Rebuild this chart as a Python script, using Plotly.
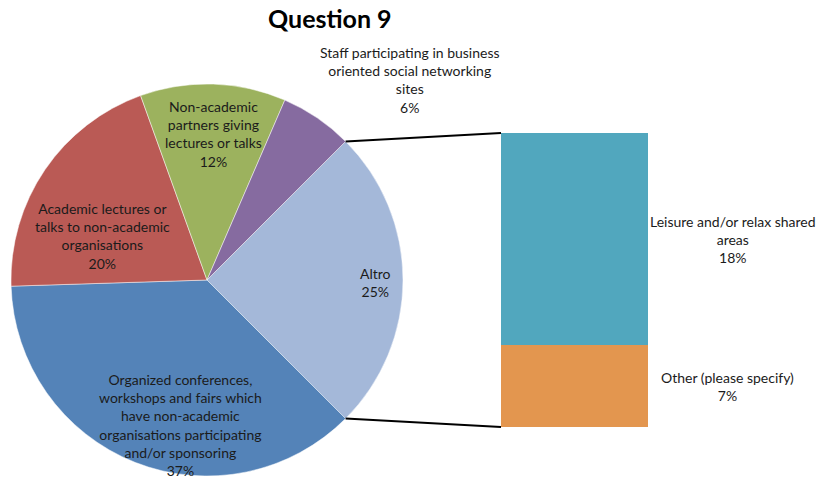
import math
import plotly.graph_objects as go

# ---- data ----------------------------------------------------------------
pie_labels = [
    "Altro",
    "Organized conferences,<br>workshops and fairs which<br>have non-academic<br>organisations participating<br>and/or sponsoring",
    "Academic lectures or<br>talks to non-academic<br>organisations",
    "Non-academic<br>partners giving<br>lectures or talks",
    "Staff participating in business<br>oriented social networking<br>sites",
]
pie_values = [25, 37, 20, 12, 6]
pie_colors = ["#A4B8D9", "#5483B8", "#BA5A55", "#9CB25E", "#866BA0"]

bar_labels = ["Other (please specify)", "Leisure and/or relax shared<br>areas"]
bar_values = [7, 18]
bar_colors = ["#E3964F", "#51A7BE"]

# ---- layout geometry (pixels) -------------------------------------------
W, H = 823, 481
CX, CY, R = 207, 280, 196          # pie centre and radius
BAR_X0, BAR_X1 = 501, 648          # bar column left/right
BAR_Y0, BAR_Y1 = 133, 427          # bar column top/bottom
ROTATION = 45                      # start angle of the first slice (deg, clockwise from 12)

def px(x):
    return x / W

def py(y):
    return 1 - y / H

FONT = "Lato"
TXT = "#1b1b1b"
FS = 14

fig = go.Figure()

fig.add_trace(go.Pie(
    labels=pie_labels,
    values=pie_values,
    sort=False,
    direction="clockwise",
    rotation=ROTATION,
    marker=dict(colors=pie_colors, line=dict(color="rgba(255,255,255,0.6)", width=0.8)),
    textinfo="none",
    hoverinfo="skip",
    showlegend=False,
    domain=dict(x=[px(CX - R), px(CX + R)], y=[py(CY + R), py(CY - R)]),
))

# secondary stacked bar breaking down the "Altro" slice
for lab, val, col in zip(bar_labels, bar_values, bar_colors):
    fig.add_trace(go.Bar(
        x=[0], y=[val], width=[1],
        marker=dict(color=col, line=dict(width=0)),
        hoverinfo="skip", showlegend=False,
        xaxis="x", yaxis="y",
    ))

fig.update_layout(
    width=W, height=H,
    margin=dict(l=0, r=0, t=0, b=0),
    paper_bgcolor="white", plot_bgcolor="rgba(0,0,0,0)",
    barmode="stack",
    xaxis=dict(domain=[px(BAR_X0), px(BAR_X1)], range=[-0.5, 0.5], visible=False, fixedrange=True),
    yaxis=dict(domain=[py(BAR_Y1), py(BAR_Y0)], range=[0, sum(bar_values)], visible=False, fixedrange=True),
    font=dict(family=FONT, size=FS, color=TXT),
)

# connector lines from the "Altro" slice edges to the bar corners
a_start = math.radians(ROTATION)
a_end = math.radians(ROTATION + 360 * pie_values[0] / sum(pie_values))
for ang, by in ((a_start, BAR_Y0), (a_end, BAR_Y1)):
    x0 = CX + R * math.sin(ang)
    y0 = CY - R * math.cos(ang)
    fig.add_shape(type="line", xref="paper", yref="paper",
                  x0=px(x0), y0=py(y0), x1=px(BAR_X0), y1=py(by),
                  line=dict(color="black", width=2))

def label(text, x, y, size=FS, color=TXT):
    fig.add_annotation(text=text, xref="paper", yref="paper",
                       x=px(x), y=py(y), xanchor="center", yanchor="middle",
                       showarrow=False, align="center",
                       font=dict(family=FONT, size=size, color=color))

# title
label("<b>Question 9</b>", 330, 18, size=25, color="black")

# slice labels (centre positions in pixels)
pie_label_pos = [(375, 282), (180, 425), (102, 236), (213, 134), (410, 80)]
for lab, val, (lx, ly) in zip(pie_labels, pie_values, pie_label_pos):
    label(f"{lab}<br>{val}%", lx, ly)

bar_label_pos = [(727, 386), (733, 239)]
for lab, val, (lx, ly) in zip(bar_labels, bar_values, bar_label_pos):
    label(f"{lab}<br>{val}%", lx, ly)

fig.write_html("out.html")
